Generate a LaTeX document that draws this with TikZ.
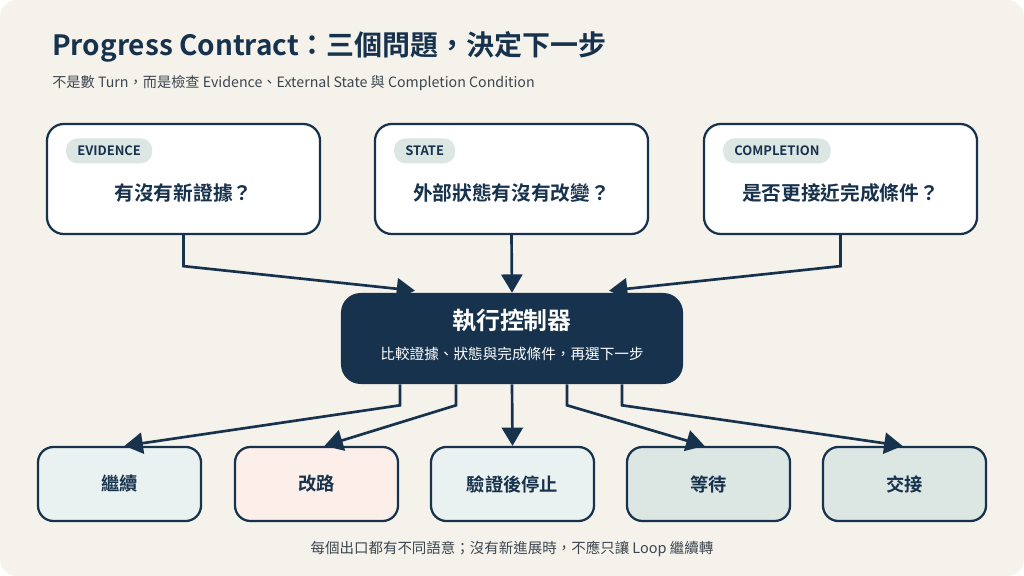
\documentclass[tikz,border=0pt]{standalone}
\usepackage{fontspec}
\setmainfont{Noto Sans CJK TC}[BoldFont={Noto Sans CJK TC Bold}]
\usetikzlibrary{arrows.meta,calc}
\definecolor{bg}{HTML}{F5F2EB}
\definecolor{navy}{HTML}{17324D}
\definecolor{pill}{HTML}{DCE6E3}
\definecolor{mint}{HTML}{EAF2F1}
\definecolor{peach}{HTML}{FCEEE8}
\definecolor{sub}{HTML}{3C4650}
\tikzset{
  ask/.style={draw=navy,line width=1.6pt,fill=white,rounded corners=12pt,minimum width=6.825cm,minimum height=2.75cm},
  tag/.style={fill=pill,rounded corners=8pt,minimum height=0.62cm,inner xsep=8pt,text=navy,font=\bfseries\fontsize{9.2}{11}\selectfont,anchor=west},
  exit/.style={draw=navy,line width=1.6pt,rounded corners=11pt,minimum width=4.075cm,minimum height=1.85cm,text=navy,font=\bfseries\fontsize{13}{15}\selectfont},
  flow/.style={navy,line width=1.9pt,-{Triangle[length=13pt,width=15pt]}}
}
\begin{document}
\begin{tikzpicture}[x=0.025cm,y=-0.025cm]
\fill[bg,rounded corners=12pt] (0,0) rectangle (1024,576);
\node[anchor=west,inner xsep=0pt,text=navy,font=\bfseries\fontsize{19.9}{24}\selectfont] (title) at (52,47) {Progress Contract：三個問題，決定下一步};
\node[anchor=west,inner xsep=0pt,text=sub,font=\fontsize{10.1}{12}\selectfont] (subt) at (52,83) {不是數 Turn，而是檢查 Evidence、External State 與 Completion Condition};
% questions
\node[ask] (ev) at (183.5,179) {};
\node[ask] (st) at (511.5,179) {};
\node[ask] (co) at (840.5,179) {};
\foreach \b/\t/\q in {ev/EVIDENCE/有沒有新證據？,st/STATE/外部狀態有沒有改變？,co/COMPLETION/是否更接近完成條件？}{
  \node[tag] (\b-tag) at ($(\b.north west)+(20,28)$) {\t};
  \node[text=navy,font=\bfseries\fontsize{14}{16}\selectfont] (\b-q) at ($(\b.center)+(0,14)$) {\q};
}
% controller
\node[fill=navy,rounded corners=14pt,minimum width=8.55cm,minimum height=2.275cm] (ctl) at (512,338.5) {};
\node[text=white,font=\bfseries\fontsize{17}{20}\selectfont] (ctl-t) at (512,321) {執行控制器};
\node[text=white,font=\fontsize{10.4}{12}\selectfont] (ctl-s) at (512,354) {比較證據、狀態與完成條件，再選下一步};
\draw[flow] (ev.south) -- ++(0,31) -- ($(ctl.north)+(-97,-2)$);
\draw[flow] (st.south) -- (ctl.north);
\draw[flow] (co.south) -- ++(0,31) -- ($(ctl.north)+(97,-2)$);
% exits
\node[exit,fill=mint] (go) at (119.5,484) {繼續};
\node[exit,fill=peach] (re) at (316.5,484) {改路};
\node[exit,fill=mint] (vs) at (512.5,484) {驗證後停止};
\node[exit,fill=pill] (wt) at (708.5,484) {等待};
\node[exit,fill=pill] (ho) at (904.5,484) {交接};
\draw[flow] ($(ctl.south)+(-112,0)$) -- ++(0,21) -- ($(go.north)+(5,0)$);
\draw[flow] ($(ctl.south)+(-56,0)$) -- ++(0,21) -- ($(re.north)+(8,0)$);
\draw[flow] (ctl.south) -- (vs.north);
\draw[flow] ($(ctl.south)+(55,0)$) -- ++(0,21) -- ($(wt.north)+(-4,0)$);
\draw[flow] ($(ctl.south)+(110,0)$) -- ++(0,21) -- ($(ho.north)+(-2,0)$);
\node[text=sub,font=\fontsize{10.3}{12}\selectfont] (foot) at (512,549) {每個出口都有不同語意；沒有新進展時，不應只讓 Loop 繼續轉};
\end{tikzpicture}
\end{document}
